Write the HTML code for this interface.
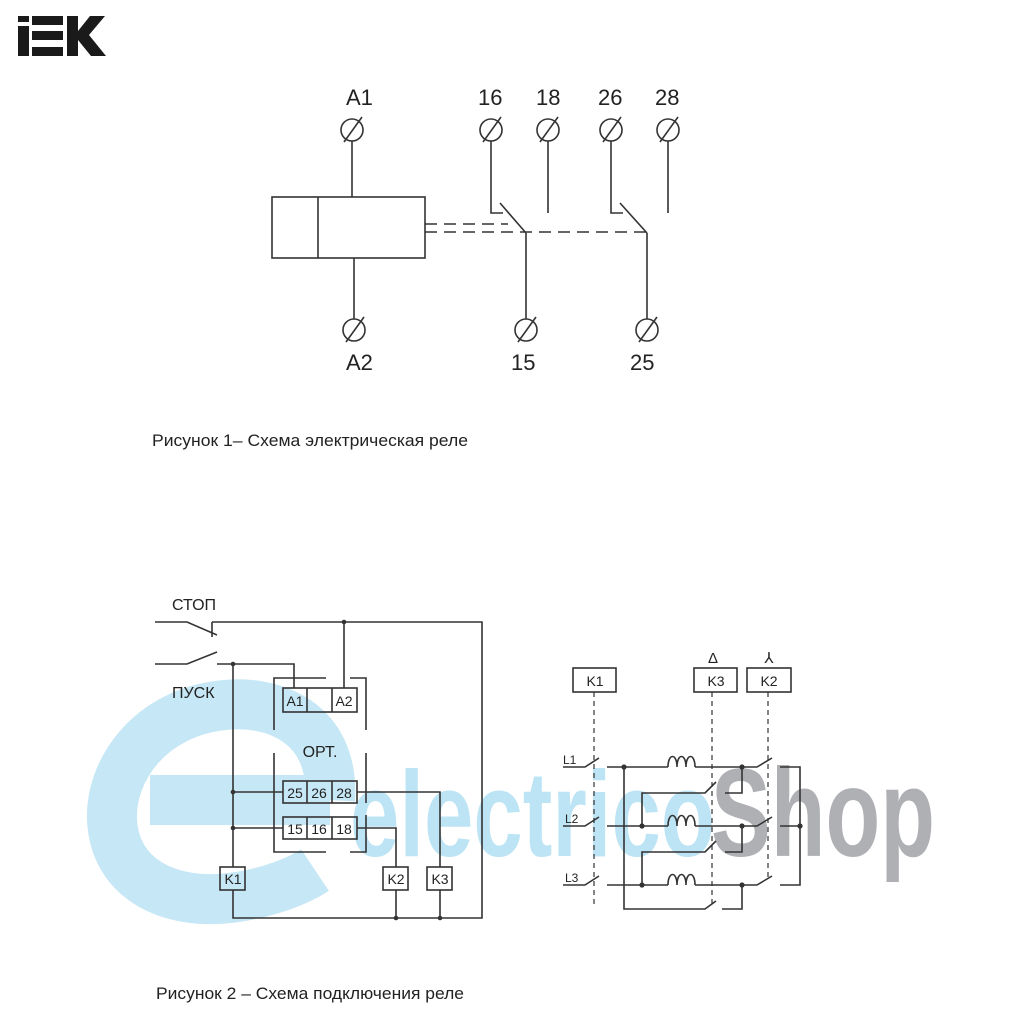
<!DOCTYPE html>
<html><head><meta charset="utf-8"><style>
html,body{margin:0;padding:0;background:#fff}
svg{display:block}
text{font-family:"Liberation Sans",sans-serif;fill:#222}
</style></head><body>
<svg width="1024" height="1024" viewBox="0 0 1024 1024" xmlns="http://www.w3.org/2000/svg">
<!-- watermark -->
<g>
<path d="M330,800 L150,800 M330,800 C335,720 270,700 225,705 C150,712 110,770 112,820 C115,880 170,905 230,898 C270,893 300,880 315,870" fill="none" stroke="#c6e7f5" stroke-width="50"/>
<text x="350" y="856" font-size="122" font-weight="bold" style="fill:#bde4f4" textLength="365" lengthAdjust="spacingAndGlyphs">electrico</text>
<text x="711" y="856" font-size="125" font-weight="bold" style="fill:#aeb0b3" textLength="224" lengthAdjust="spacingAndGlyphs">Shop</text>
</g>
<!-- IEK logo -->
<g fill="#1a1a1a">
<rect x="18" y="16" width="11" height="6"/><rect x="18" y="26" width="11" height="30"/>
<rect x="32" y="16" width="31" height="9"/><rect x="32" y="31" width="31" height="9"/><rect x="32" y="47" width="31" height="9"/>
<polygon points="67,16 78,16 78,31 90,16 105,16 89,35 106,56 91,56 78,40 78,56 67,56"/>
</g>
<g stroke="#333" stroke-width="1.6" fill="none">
<circle cx="352" cy="130" r="11"/><line x1="344" y1="142" x2="362" y2="117"/>
<line x1="352" y1="141" x2="352" y2="197"/>
<rect x="272" y="197" width="153" height="61"/><line x1="318" y1="197" x2="318" y2="258"/>
<line x1="354" y1="258" x2="354" y2="319"/>
<circle cx="354" cy="330" r="11"/><line x1="346" y1="342" x2="364" y2="317"/>
<circle cx="491" cy="130" r="11"/><line x1="483" y1="142" x2="501" y2="117"/>
<circle cx="548" cy="130" r="11"/><line x1="540" y1="142" x2="558" y2="117"/>
<circle cx="611" cy="130" r="11"/><line x1="603" y1="142" x2="621" y2="117"/>
<circle cx="668" cy="130" r="11"/><line x1="660" y1="142" x2="678" y2="117"/>
<polyline points="491,141 491,213 503,213"/>
<line x1="548" y1="141" x2="548" y2="213"/>
<line x1="500" y1="203" x2="526" y2="233"/>
<line x1="526" y1="233" x2="526" y2="319"/>
<circle cx="526" cy="330" r="11"/><line x1="518" y1="342" x2="536" y2="317"/>
<polyline points="611,141 611,213 623,213"/>
<line x1="668" y1="141" x2="668" y2="213"/>
<line x1="620" y1="203" x2="647" y2="233"/>
<line x1="647" y1="233" x2="647" y2="319"/>
<circle cx="647" cy="330" r="11"/><line x1="639" y1="342" x2="657" y2="317"/>
<line x1="425" y1="224" x2="508" y2="224" stroke-dasharray="12,7"/>
<line x1="425" y1="232" x2="647" y2="232" stroke-dasharray="12,7"/>
<polyline points="155,622 187,622 217,635"/>
<line x1="212" y1="622" x2="212" y2="637"/>
<polyline points="212,622 482,622 482,918 233,918 233,890"/>
<line x1="344" y1="622" x2="344" y2="688"/>
<polyline points="155,664 187,664 217,652"/>
<polyline points="217,664 294,664 294,688"/>
<line x1="233" y1="664" x2="233" y2="867"/>
<rect x="283" y="688" width="74" height="24"/><line x1="307" y1="688" x2="307" y2="712"/><line x1="332" y1="688" x2="332" y2="712"/>
<polyline points="326,678 274,678 274,730"/>
<polyline points="350,678 366,678 366,730"/>
<polyline points="274,753 274,852 326,852"/>
<polyline points="366,753 366,803"/><polyline points="366,815 366,852 350,852"/>
<rect x="283" y="781" width="74" height="22"/><line x1="307" y1="781" x2="307" y2="803"/><line x1="332" y1="781" x2="332" y2="803"/>
<rect x="283" y="817" width="74" height="22"/><line x1="307" y1="817" x2="307" y2="839"/><line x1="332" y1="817" x2="332" y2="839"/>
<line x1="233" y1="792" x2="283" y2="792"/><line x1="233" y1="828" x2="283" y2="828"/>
<polyline points="357,792 440,792 440,867"/>
<polyline points="357,828 396,828 396,867"/>
<rect x="220" y="867" width="25" height="23"/>
<rect x="383" y="867" width="25" height="23"/>
<rect x="427" y="867" width="25" height="23"/>
<line x1="396" y1="890" x2="396" y2="918"/><line x1="440" y1="890" x2="440" y2="918"/>
<rect x="573" y="668" width="43" height="24"/>
<rect x="694" y="668" width="43" height="24"/>
<rect x="747" y="668" width="44" height="24"/>
<g stroke-dasharray="5,4" stroke-width="1.2">
<line x1="594" y1="692" x2="594" y2="905"/>
<line x1="712" y1="692" x2="712" y2="905"/>
<line x1="768" y1="692" x2="768" y2="880"/>
</g>
<g>
<polyline points="563,767 585,767 599,758"/><line x1="607" y1="767" x2="668" y2="767"/>
<path d="M668,767 c0,-14 9,-14 9,0 c0,-14 9,-14 9,0 c0,-14 9,-14 9,0"/>
<polyline points="695,767 757,767 772,758"/><polyline points="780,767 800,767 800,885 780,885"/>
<polyline points="563,826 585,826 599,817"/><line x1="607" y1="826" x2="668" y2="826"/>
<path d="M668,826 c0,-14 9,-14 9,0 c0,-14 9,-14 9,0 c0,-14 9,-14 9,0"/>
<polyline points="695,826 757,826 772,817"/><line x1="780" y1="826" x2="800" y2="826"/>
<polyline points="563,885 585,885 599,876"/><line x1="607" y1="885" x2="668" y2="885"/>
<path d="M668,885 c0,-14 9,-14 9,0 c0,-14 9,-14 9,0 c0,-14 9,-14 9,0"/>
<polyline points="695,885 757,885 772,876"/>
</g>
<polyline points="624,767 624,909 705,909 716,901"/><polyline points="722,909 742,909 742,885"/>
<polyline points="642,826 642,793 705,793 716,782"/><polyline points="725,793 742,793 742,767"/>
<polyline points="642,885 642,852 705,852 716,841"/><polyline points="725,852 742,852 742,826"/>
</g>
<g fill="#333">
<circle cx="344" cy="622" r="2.3"/><circle cx="233" cy="664" r="2.3"/><circle cx="233" cy="792" r="2.3"/><circle cx="233" cy="828" r="2.3"/><circle cx="396" cy="918" r="2.3"/><circle cx="440" cy="918" r="2.3"/>
<circle cx="624" cy="767" r="2.6"/><circle cx="742" cy="767" r="2.6"/><circle cx="642" cy="826" r="2.6"/><circle cx="742" cy="826" r="2.6"/><circle cx="800" cy="826" r="2.6"/><circle cx="642" cy="885" r="2.6"/><circle cx="742" cy="885" r="2.6"/>
</g>
<g font-size="22">
<text x="346" y="105">A1</text><text x="346" y="370">A2</text>
<text x="478" y="105">16</text><text x="536" y="105">18</text><text x="598" y="105">26</text><text x="655" y="105">28</text>
<text x="511" y="370">15</text><text x="630" y="370">25</text>
</g>
<text x="152" y="446" font-size="17" textLength="316" lengthAdjust="spacingAndGlyphs">Рисунок 1– Схема электрическая реле</text>
<text x="156" y="999" font-size="17" textLength="308" lengthAdjust="spacingAndGlyphs">Рисунок 2 – Схема подключения реле</text>
<text x="172" y="610" font-size="16">СТОП</text>
<text x="172" y="698" font-size="16">ПУСК</text>
<text x="320" y="757" font-size="16" text-anchor="middle">ОРТ.</text>
<g font-size="14" text-anchor="middle">
<text x="295" y="706">A1</text><text x="344" y="706">A2</text>
<text x="295" y="798">25</text><text x="319" y="798">26</text><text x="344" y="798">28</text>
<text x="295" y="834">15</text><text x="319" y="834">16</text><text x="344" y="834">18</text>
<text x="233" y="884">K1</text><text x="396" y="884">K2</text><text x="440" y="884">K3</text>
<text x="595" y="686">K1</text><text x="716" y="686">K3</text><text x="769" y="686">K2</text>
<text x="713" y="663" font-size="15">Δ</text><text x="769" y="663" font-size="15">⅄</text>
</g>
<g font-size="12"><text x="563" y="764">L1</text><text x="565" y="823">L2</text><text x="565" y="882">L3</text></g>
</svg>
</body></html>
